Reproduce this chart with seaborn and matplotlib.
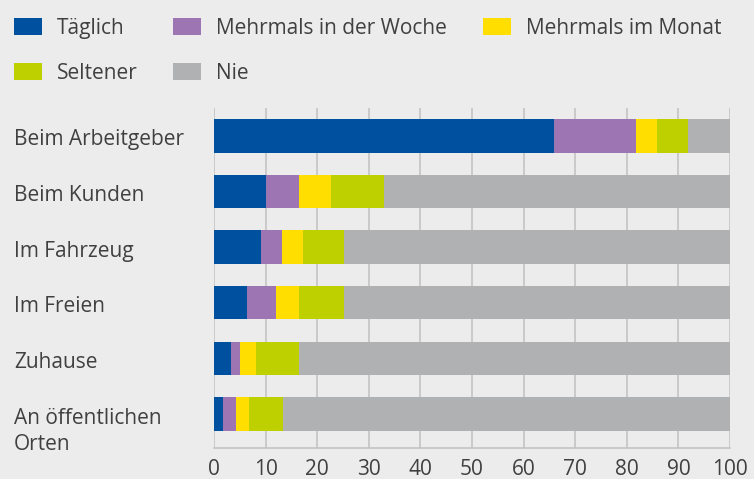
import pandas as pd
import matplotlib.pyplot as plt
import matplotlib.transforms as mtransforms
import seaborn as sns

# Anteile in Prozent, je Arbeitsort
orte = ['Beim Arbeitgeber', 'Beim Kunden', 'Im Fahrzeug', 'Im Freien',
        'Zuhause', 'An öffentlichen\nOrten']
taeglich = [65.9, 10.1, 9.2, 6.4, 3.3, 1.7]
woche = [15.9, 6.3, 4.0, 5.6, 1.7, 2.5]
monat = [4.0, 6.3, 4.1, 4.4, 3.1, 2.6]
seltener = [6.0, 10.2, 7.9, 8.8, 8.3, 6.6]
nie = [8.2, 67.1, 74.8, 74.8, 83.6, 86.6]

serien = ['Täglich', 'Mehrmals in der Woche', 'Mehrmals im Monat', 'Seltener', 'Nie']
farben = ['#0050a0', '#9e75b3', '#ffde00', '#bed000', '#b0b1b3']

df = pd.DataFrame({'ort': orte, 'Täglich': taeglich, 'Mehrmals in der Woche': woche,
                   'Mehrmals im Monat': monat, 'Seltener': seltener, 'Nie': nie})

# kumulierte Summen fuer gestapelte Balken
kum = df[serien].cumsum(axis=1)
kum['ort'] = df['ort']

bg = '#ececec'
txt = '#404040'
fs = 15
sns.set_theme(style='white')
plt.rcParams['font.family'] = ['Open Sans', 'DejaVu Sans']

fig = plt.figure(figsize=(7.54, 4.79), dpi=100, facecolor=bg)
ax = fig.add_axes([214 / 754, 1 - 448 / 479, 516 / 754, 340 / 479])
ax.set_facecolor(bg)

handles = {}
for name, col in reversed(list(zip(serien, farben))):
    sns.barplot(data=kum, x=name, y='ort', order=orte, color=col, width=0.6,
                saturation=1, linewidth=0, edgecolor='none', ax=ax, zorder=3)
    handles[name] = plt.Rectangle((0, 0), 1, 1, color=col, linewidth=0)

ax.set_xlim(0, 100)
ax.set_ylim(5.61, -0.5)
ax.set_xticks(range(0, 101, 10))
ax.grid(axis='x', color='#c0c0c0', linewidth=1.1, zorder=0)
ax.grid(axis='y', visible=False)
for s in ['top', 'right', 'left']:
    ax.spines[s].set_visible(False)
ax.spines['bottom'].set_color('#c0c0c0')
ax.spines['bottom'].set_linewidth(1.1)
ax.set_xlabel('')
ax.set_ylabel('')
ax.tick_params(axis='x', length=0, pad=8, labelsize=fs, labelcolor=txt)
ax.set_yticks(range(len(orte)))
ax.set_yticklabels([])
ax.tick_params(axis='y', length=0)

# Kategorien links ausgerichtet, erste Zeile auf Balkenmitte
trans = mtransforms.blended_transform_factory(fig.transFigure, ax.transData)
for i, ort in enumerate(orte):
    zeilen = ort.count('\n')
    ax.text(14 / 754, i + 0.17 + zeilen * 0.475, ort, transform=trans, ha='left',
            va='baseline', fontsize=fs, color=txt, linespacing=1.3)

reihenfolge = ['Täglich', 'Seltener', 'Mehrmals in der Woche', 'Nie', 'Mehrmals im Monat']
fig.legend([handles[n] for n in reihenfolge], reihenfolge, ncol=3, frameon=False,
           loc='upper left', bbox_to_anchor=(14 / 754, 1 - 18 / 479),
           borderaxespad=0, borderpad=0, fontsize=fs, labelcolor=txt,
           handlelength=1.35, handleheight=0.87, handletextpad=0.72,
           columnspacing=1.7, labelspacing=1.15)

fig.savefig('out.png', dpi=100, facecolor=bg)
